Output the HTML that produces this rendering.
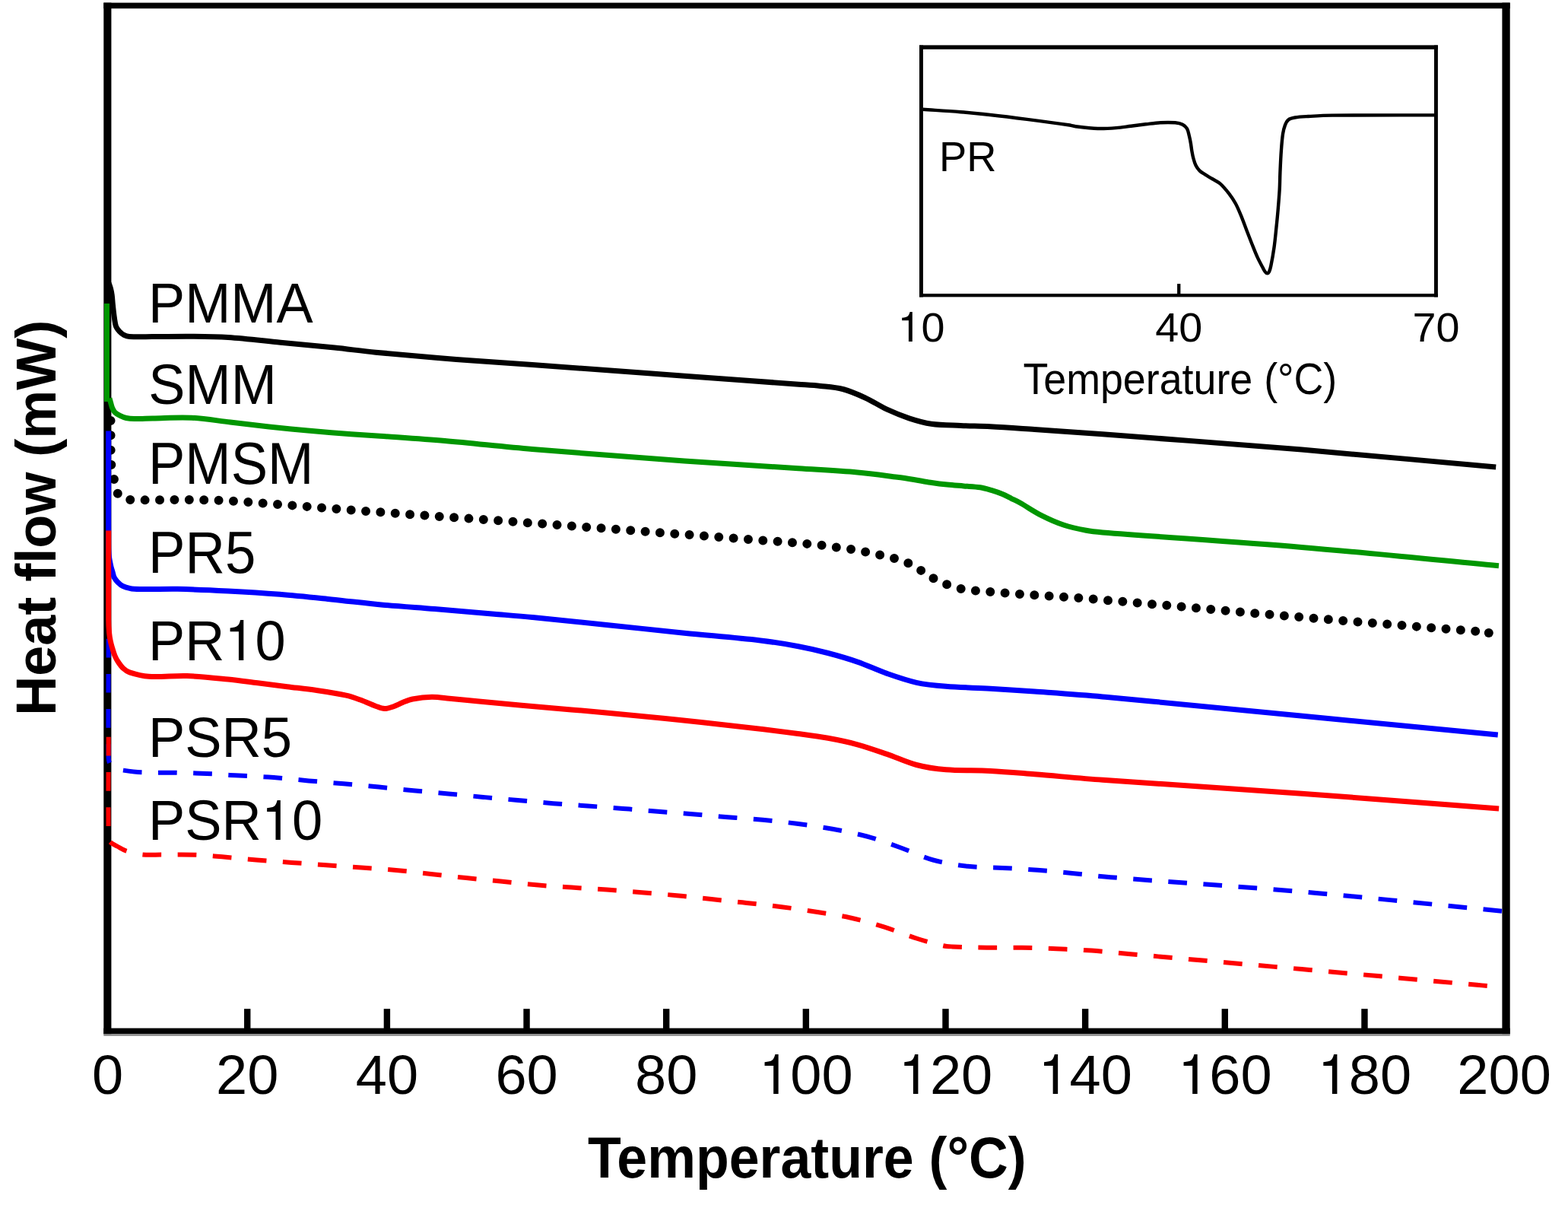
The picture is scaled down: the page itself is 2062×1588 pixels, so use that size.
<!DOCTYPE html>
<html><head><meta charset="utf-8"><title>DSC Heat flow</title>
<style>html,body{margin:0;padding:0;background:#fff;}svg{display:block;}</style>
</head><body>
<svg xmlns="http://www.w3.org/2000/svg" width="2062" height="1588" viewBox="0 0 2062 1588"><rect x="0" y="0" width="2062" height="1588" fill="#fff"/>
<rect x="136" y="1.2" width="1850" height="1.6" fill="#f2f2f2"/>
<g fill="#000">
<rect x="136.3" y="3.6" width="10.1" height="1356"/>
<rect x="1975.4" y="3.6" width="10.3" height="1356"/>
<rect x="136.3" y="3.6" width="1849.4" height="7.6"/>
<rect x="136.3" y="1351.6" width="1849.4" height="7.6"/>
<rect x="321.05" y="1326.2" width="8.4" height="26"/>
<rect x="504.70" y="1326.2" width="8.4" height="26"/>
<rect x="688.35" y="1326.2" width="8.4" height="26"/>
<rect x="872.00" y="1326.2" width="8.4" height="26"/>
<rect x="1055.65" y="1326.2" width="8.4" height="26"/>
<rect x="1239.30" y="1326.2" width="8.4" height="26"/>
<rect x="1422.95" y="1326.2" width="8.4" height="26"/>
<rect x="1606.60" y="1326.2" width="8.4" height="26"/>
<rect x="1790.25" y="1326.2" width="8.4" height="26"/>
</g>
<rect x="136.3" y="1359.2" width="1849.4" height="2.6" fill="#8a8a8a"/>
<g fill="none" stroke-linejoin="round">
<path d="M140.5,399 L140.5,528" stroke="#009600" stroke-width="7"/>
<path d="M143.00,372.00 C143.80,374.33 144.78,376.62 145.40,379.00 C146.18,381.95 146.79,384.97 147.20,388.00 C147.79,392.31 147.93,396.67 148.40,401.00 C149.03,406.87 149.63,412.76 150.50,418.60 C151.03,422.19 151.33,425.98 152.60,429.30 C153.50,431.64 155.26,433.76 157.00,435.60 C158.73,437.43 160.78,439.16 163.00,440.30 C165.25,441.46 167.85,442.34 170.40,442.50 C180.18,443.11 190.13,442.64 200.00,442.60 C216.67,442.54 233.34,442.05 250.00,442.20 C266.67,442.35 283.38,442.38 300.00,443.50 C323.04,445.05 346.00,447.97 369.00,450.20 C392.67,452.50 416.35,454.64 440.00,457.10 C458.02,458.97 475.97,461.46 494.00,463.20 C529.30,466.60 564.64,469.70 600.00,472.50 C633.31,475.14 666.67,477.08 700.00,479.50 C766.67,484.34 833.33,489.40 900.00,494.30 C950.00,497.97 1000.00,501.54 1050.00,505.20 C1059.67,505.91 1069.37,506.36 1079.00,507.40 C1088.77,508.46 1098.75,509.02 1108.20,511.50 C1118.19,514.12 1127.87,518.37 1137.30,522.70 C1147.27,527.27 1156.45,533.57 1166.40,538.20 C1175.85,542.60 1185.59,546.57 1195.50,549.80 C1204.99,552.90 1214.74,555.79 1224.60,557.20 C1237.37,559.02 1250.46,558.90 1263.40,559.50 C1276.33,560.10 1289.28,560.12 1302.20,560.80 C1321.61,561.82 1341.00,563.29 1360.40,564.60 C1390.27,566.62 1420.15,568.55 1450.00,570.80 C1537.31,577.38 1624.65,583.80 1711.90,591.10 C1797.05,598.23 1882.10,606.43 1967.20,614.10" stroke="#000" stroke-width="7"/>
<path d="M144.00,523.50 C144.63,525.83 145.23,528.18 145.90,530.50 C146.46,532.44 146.88,534.46 147.70,536.30 C148.58,538.29 149.49,540.49 151.00,542.00 C152.86,543.86 155.40,545.20 157.80,546.40 C160.40,547.70 163.17,548.87 166.00,549.50 C169.47,550.27 173.12,550.56 176.70,550.60 C184.75,550.69 192.83,550.05 200.90,549.90 C217.90,549.58 234.95,548.35 251.90,549.20 C268.92,550.05 285.84,553.05 302.80,555.00 C319.77,556.95 336.72,559.07 353.70,560.90 C370.65,562.73 387.62,564.45 404.60,566.00 C421.59,567.55 438.59,568.92 455.60,570.20 C470.39,571.32 485.20,572.14 500.00,573.20 C528.30,575.24 556.63,577.05 584.90,579.50 C623.30,582.82 661.59,587.28 700.00,590.50 C766.63,596.08 833.31,601.08 900.00,605.90 C949.98,609.51 1000.00,612.48 1050.00,615.80 C1075.87,617.52 1101.78,618.72 1127.60,621.00 C1145.12,622.55 1162.55,625.07 1180.00,627.30 C1187.28,628.23 1194.55,629.35 1201.80,630.50 C1209.08,631.65 1216.31,633.10 1223.60,634.20 C1230.88,635.30 1238.18,636.31 1245.50,637.10 C1252.75,637.88 1260.03,638.30 1267.30,638.90 C1274.57,639.50 1281.92,639.61 1289.10,640.70 C1294.02,641.44 1298.83,642.96 1303.60,644.40 C1308.53,645.89 1313.44,647.54 1318.20,649.50 C1322.24,651.17 1326.07,653.35 1330.00,655.30 C1333.67,657.12 1337.43,658.79 1341.00,660.80 C1350.80,666.32 1360.09,672.82 1370.10,677.90 C1379.49,682.66 1389.23,686.98 1399.20,690.30 C1408.63,693.44 1418.51,695.45 1428.30,697.30 C1435.45,698.65 1442.74,699.33 1450.00,699.90 C1537.27,706.70 1624.67,712.07 1711.90,719.40 C1798.34,726.67 1884.63,735.60 1971.00,743.70" stroke="#009600" stroke-width="7"/>
<path d="M145.60,536.00 C145.60,549.00 145.46,562.00 145.60,575.00 C145.73,587.27 145.40,599.61 146.40,611.80 C146.94,618.38 148.87,624.81 150.20,631.30 C151.21,636.21 151.50,641.49 153.40,646.00 C154.76,649.22 157.14,652.70 160.00,654.50 C163.01,656.40 167.24,656.99 171.00,657.10 C197.24,657.86 223.67,656.77 250.00,657.10 C268.94,657.34 287.90,657.57 306.80,658.80 C371.17,662.97 435.46,668.59 499.80,673.30 C566.52,678.19 633.28,682.71 700.00,687.60 C768.88,692.65 837.74,697.90 906.60,703.10 C958.27,707.00 1009.95,710.81 1061.60,714.90 C1068.08,715.41 1074.55,716.12 1081.00,716.90 C1087.48,717.69 1093.93,718.73 1100.40,719.60 C1106.56,720.43 1112.76,721.03 1118.90,722.00 C1125.39,723.03 1131.85,724.32 1138.30,725.60 C1144.45,726.82 1150.58,728.14 1156.70,729.50 C1163.18,730.94 1169.73,732.18 1176.10,734.00 C1182.33,735.78 1188.62,737.64 1194.50,740.30 C1200.25,742.91 1205.57,746.51 1211.00,749.80 C1216.57,753.18 1221.79,757.19 1227.50,760.30 C1233.12,763.36 1239.02,766.03 1245.00,768.30 C1250.98,770.57 1257.16,772.53 1263.40,773.90 C1269.76,775.30 1276.31,775.90 1282.80,776.60 C1289.25,777.30 1295.73,777.62 1302.20,778.10 C1315.13,779.06 1328.06,780.00 1341.00,780.90 C1373.00,783.13 1405.03,784.87 1437.00,787.50 C1527.37,794.94 1617.64,803.52 1708.00,811.10 C1791.31,818.09 1874.67,824.50 1958.00,831.20" stroke="#000" stroke-width="12" stroke-linecap="round" stroke-dasharray="0 19.395" stroke-dashoffset="2.5"/>
<circle cx="1957.8" cy="831.9" r="6" fill="#000" stroke="none"/>
<path d="M142.70,566.40 C142.70,615.93 142.46,665.47 142.70,715.00 C142.73,720.67 142.88,726.38 143.50,732.00 C143.98,736.38 145.01,740.70 146.00,745.00 C146.58,747.54 147.46,750.00 148.20,752.50 C148.86,754.73 149.14,757.17 150.20,759.20 C151.40,761.50 153.14,763.66 155.00,765.50 C156.94,767.43 159.09,769.48 161.60,770.50 C166.32,772.41 171.54,774.03 176.70,774.30 C195.48,775.29 214.51,773.90 233.40,774.30 C255.61,774.77 277.81,775.75 300.00,776.90 C322.65,778.08 345.30,779.47 367.90,781.30 C390.56,783.14 413.18,785.58 435.80,787.90 C458.45,790.22 481.04,793.08 503.70,795.20 C526.30,797.31 548.97,798.74 571.60,800.60 C597.74,802.74 623.87,804.98 650.00,807.20 C666.67,808.61 683.35,809.89 700.00,811.50 C733.35,814.72 766.67,818.25 800.00,821.70 C833.34,825.15 866.65,828.82 900.00,832.20 C933.32,835.58 966.74,838.12 1000.00,842.00 C1016.74,843.95 1033.43,846.62 1050.00,849.70 C1063.03,852.12 1075.98,855.13 1088.80,858.50 C1101.85,861.93 1114.86,865.68 1127.60,870.10 C1140.72,874.65 1153.29,880.80 1166.40,885.40 C1179.16,889.87 1192.03,894.43 1205.20,897.30 C1217.90,900.06 1231.01,901.24 1244.00,902.30 C1263.35,903.88 1282.81,904.07 1302.20,905.20 C1321.61,906.33 1341.01,907.68 1360.40,909.10 C1390.28,911.28 1420.17,913.29 1450.00,916.00 C1536.04,923.82 1622.01,932.41 1708.00,940.70 C1795.27,949.11 1882.53,957.63 1969.80,966.10" stroke="#0000ff" stroke-width="7"/>
<path d="M142.70,838.50 C142.70,891.00 142.13,943.56 142.70,996.00 C142.73,998.73 143.25,1001.69 144.50,1004.00 C145.68,1006.19 147.75,1008.41 150.00,1009.50 C153.65,1011.27 158.06,1011.95 162.20,1012.60 C170.53,1013.91 178.97,1015.02 187.40,1015.40 C202.70,1016.09 218.07,1015.48 233.40,1015.80 C248.70,1016.12 264.01,1016.61 279.30,1017.30 C286.88,1017.64 294.43,1018.46 302.00,1018.90 C321.33,1020.03 340.69,1020.61 360.00,1022.00 C375.36,1023.11 390.66,1025.02 406.00,1026.40 C421.33,1027.78 436.67,1028.93 452.00,1030.30 C467.34,1031.67 482.67,1033.11 498.00,1034.60 C513.17,1036.08 528.33,1037.74 543.50,1039.20 C558.83,1040.67 574.17,1041.95 589.50,1043.40 C604.87,1044.85 620.23,1046.46 635.60,1047.90 C650.73,1049.32 665.87,1050.63 681.00,1052.00 C696.53,1053.40 712.06,1054.93 727.60,1056.20 C742.72,1057.43 757.87,1058.39 773.00,1059.50 C788.33,1060.62 803.67,1061.68 819.00,1062.90 C834.34,1064.12 849.66,1065.57 865.00,1066.80 C880.33,1068.03 895.67,1069.07 911.00,1070.30 C926.34,1071.53 941.66,1072.97 957.00,1074.20 C972.33,1075.43 987.69,1076.25 1003.00,1077.70 C1018.03,1079.12 1033.04,1080.82 1048.00,1082.80 C1063.57,1084.86 1079.15,1087.00 1094.60,1089.80 C1109.82,1092.56 1125.09,1095.44 1140.00,1099.50 C1154.69,1103.50 1169.03,1108.88 1183.40,1114.00 C1198.03,1119.21 1212.09,1126.35 1227.00,1130.50 C1241.82,1134.62 1257.28,1137.05 1272.60,1138.80 C1287.62,1140.52 1302.87,1140.08 1318.00,1140.90 C1333.44,1141.74 1348.88,1142.61 1364.30,1143.80 C1379.55,1144.98 1394.78,1146.51 1410.00,1148.00 C1426.84,1149.65 1443.63,1151.84 1460.50,1153.20 C1544.27,1159.94 1628.18,1165.06 1711.90,1172.30 C1799.68,1179.89 1887.30,1189.23 1975.00,1197.70" stroke="#0000ff" stroke-width="6" stroke-dasharray="24.7 21.5" stroke-dashoffset="-1.2"/>
<path d="M142.70,697.40 C142.70,736.60 142.44,775.81 142.70,815.00 C142.74,820.67 143.08,826.36 143.60,832.00 C143.94,835.69 144.57,839.37 145.30,843.00 C145.84,845.70 146.61,848.36 147.40,851.00 C148.51,854.69 149.52,858.45 151.00,862.00 C152.16,864.78 153.63,867.49 155.30,870.00 C157.29,872.99 159.38,876.09 162.00,878.50 C164.42,880.72 167.27,882.89 170.40,883.90 C178.47,886.49 187.07,888.78 195.60,889.30 C212.27,890.31 229.23,887.91 246.00,888.50 C264.03,889.14 282.03,891.20 300.00,893.00 C312.96,894.30 325.87,896.18 338.80,897.80 C351.74,899.42 364.66,901.08 377.60,902.70 C390.53,904.32 403.51,905.61 416.40,907.50 C429.38,909.41 442.42,911.29 455.20,914.10 C461.82,915.55 468.22,917.98 474.60,920.30 C481.16,922.68 487.45,925.81 494.00,928.20 C497.78,929.58 501.70,931.46 505.60,931.60 C509.37,931.73 513.33,930.25 517.00,929.00 C521.46,927.48 525.60,925.03 530.00,923.30 C534.10,921.69 538.19,919.80 542.50,919.00 C550.76,917.47 559.29,916.44 567.70,916.30 C575.46,916.17 583.24,917.48 591.00,918.20 C603.94,919.41 616.86,920.87 629.80,922.10 C653.19,924.33 676.59,926.53 700.00,928.60 C732.32,931.46 764.69,933.90 797.00,936.90 C829.35,939.90 861.68,943.22 894.00,946.60 C926.35,949.98 958.69,953.47 991.00,957.20 C1010.42,959.44 1029.82,961.90 1049.20,964.50 C1062.42,966.27 1075.68,967.91 1088.80,970.30 C1101.82,972.67 1114.84,975.33 1127.60,978.80 C1140.71,982.36 1153.54,986.98 1166.40,991.40 C1179.41,995.88 1191.95,1002.02 1205.20,1005.50 C1217.82,1008.82 1230.97,1010.74 1244.00,1011.80 C1263.30,1013.37 1282.82,1012.40 1302.20,1013.40 C1321.62,1014.40 1341.01,1016.24 1360.40,1017.80 C1390.27,1020.21 1420.11,1023.14 1450.00,1025.30 C1537.27,1031.61 1624.62,1036.90 1711.90,1043.20 C1798.32,1049.44 1884.70,1056.33 1971.10,1062.90" stroke="#ff0000" stroke-width="7"/>
<path d="M142.70,968.80 C142.70,1012.53 142.10,1056.35 142.70,1100.00 C142.73,1102.28 143.12,1105.04 144.60,1106.60 C147.22,1109.37 151.45,1111.01 155.00,1113.00 C158.59,1115.01 162.11,1117.35 166.00,1118.60 C172.91,1120.82 180.17,1122.62 187.40,1123.40 C195.71,1124.29 204.20,1123.55 212.60,1123.60 C227.90,1123.69 243.22,1123.28 258.50,1123.80 C269.68,1124.18 280.84,1125.37 292.00,1126.30 C307.11,1127.57 322.19,1129.14 337.30,1130.40 C352.66,1131.68 368.03,1132.76 383.40,1133.90 C398.60,1135.03 413.80,1136.10 429.00,1137.20 C444.33,1138.30 459.67,1139.37 475.00,1140.50 C490.34,1141.63 505.69,1142.60 521.00,1144.00 C536.25,1145.40 551.47,1147.22 566.70,1148.90 C582.07,1150.59 597.42,1152.47 612.80,1154.10 C627.99,1155.71 643.20,1157.08 658.40,1158.60 C674.93,1160.25 691.45,1162.18 708.00,1163.60 C722.45,1164.84 736.93,1165.65 751.40,1166.60 C766.93,1167.62 782.48,1168.38 798.00,1169.50 C813.34,1170.61 828.67,1172.02 844.00,1173.30 C859.33,1174.58 874.68,1175.73 890.00,1177.20 C905.25,1178.66 920.46,1180.49 935.70,1182.10 C951.06,1183.72 966.44,1185.22 981.80,1186.90 C997.14,1188.58 1012.49,1190.23 1027.80,1192.20 C1042.99,1194.16 1058.17,1196.31 1073.30,1198.70 C1088.37,1201.08 1103.53,1203.18 1118.40,1206.50 C1133.43,1209.85 1148.29,1214.12 1163.00,1218.70 C1177.69,1223.28 1191.93,1229.33 1206.60,1234.00 C1217.60,1237.50 1228.77,1240.63 1240.00,1243.20 C1243.91,1244.10 1247.99,1244.23 1252.00,1244.40 C1267.25,1245.06 1282.53,1245.47 1297.80,1245.70 C1313.20,1245.93 1328.60,1245.53 1344.00,1245.80 C1359.17,1246.06 1374.34,1246.67 1389.50,1247.30 C1404.84,1247.94 1420.19,1248.53 1435.50,1249.60 C1450.82,1250.67 1466.10,1252.34 1481.40,1253.70 C1558.23,1260.51 1635.07,1267.25 1711.90,1274.10 C1788.74,1280.95 1865.57,1287.91 1942.40,1294.80 C1946.93,1295.21 1951.47,1295.60 1956.00,1296.00" stroke="#ff0000" stroke-width="6" stroke-dasharray="24.7 21.5"/>
</g>
<path d="M1213.50,143.80 C1230.07,144.93 1246.65,145.85 1263.20,147.20 C1276.15,148.25 1289.09,149.57 1302.00,151.00 C1318.19,152.80 1334.35,154.81 1350.50,156.90 C1368.68,159.25 1386.86,161.66 1405.00,164.30 C1408.20,164.76 1411.30,165.81 1414.50,166.20 C1424.16,167.38 1433.88,168.65 1443.60,169.00 C1451.68,169.29 1459.82,168.71 1467.90,168.10 C1474.39,167.61 1480.83,166.50 1487.30,165.70 C1493.77,164.90 1500.23,164.05 1506.70,163.30 C1513.16,162.55 1519.61,161.53 1526.10,161.20 C1532.55,160.87 1539.10,160.73 1545.50,161.30 C1548.80,161.60 1552.30,162.34 1555.20,163.80 C1557.47,164.94 1559.73,166.92 1561.00,169.10 C1562.63,171.92 1563.07,175.53 1563.90,178.80 C1564.71,182.00 1565.33,185.25 1565.90,188.50 C1566.46,191.72 1566.74,194.98 1567.30,198.20 C1567.87,201.45 1568.43,204.72 1569.30,207.90 C1570.20,211.19 1571.10,214.57 1572.60,217.60 C1573.83,220.07 1575.54,222.46 1577.50,224.40 C1579.44,226.33 1581.97,227.70 1584.30,229.20 C1587.47,231.23 1590.78,233.05 1594.00,235.00 C1597.51,237.12 1601.45,238.72 1604.50,241.40 C1608.82,245.19 1612.54,249.83 1616.10,254.40 C1619.31,258.53 1622.29,262.92 1624.80,267.50 C1627.59,272.59 1629.77,278.03 1632.00,283.40 C1634.57,289.60 1636.79,295.94 1639.20,302.20 C1641.62,308.47 1644.00,314.76 1646.50,321.00 C1648.83,326.83 1651.08,332.70 1653.70,338.40 C1655.92,343.23 1658.49,347.91 1661.00,352.60 C1661.92,354.31 1662.80,356.12 1664.00,357.60 C1664.63,358.38 1665.70,359.46 1666.50,359.40 C1667.37,359.33 1668.53,358.17 1669.00,357.20 C1670.13,354.87 1670.76,352.12 1671.30,349.50 C1672.93,341.52 1674.36,333.47 1675.50,325.40 C1676.73,316.74 1677.49,308.01 1678.40,299.30 C1679.16,292.07 1679.89,284.84 1680.50,277.60 C1681.32,267.94 1682.15,258.28 1682.70,248.60 C1683.11,241.38 1683.09,234.13 1683.40,226.90 C1683.82,217.23 1684.21,207.55 1684.90,197.90 C1685.41,190.65 1685.92,183.37 1687.00,176.20 C1687.59,172.27 1688.47,168.27 1689.90,164.60 C1690.91,162.01 1692.21,159.01 1694.30,157.40 C1696.57,155.65 1700.00,155.00 1703.00,154.50 C1708.70,153.54 1714.59,153.34 1720.40,153.00 C1730.92,152.38 1741.46,151.70 1752.00,151.60 C1796.99,151.17 1842.00,151.47 1887.00,151.40" fill="none" stroke="#000" stroke-width="4.4" stroke-linejoin="round"/>
<g fill="#000">
<rect x="1209.0" y="59.5" width="4.9" height="331"/>
<rect x="1886.0" y="59.5" width="4.9" height="331"/>
<rect x="1209.0" y="59.4" width="681.9" height="5.4"/>
<rect x="1209.0" y="386.1" width="681.9" height="4.3"/>
<rect x="1548.1" y="373.1" width="4.3" height="14"/>
</g>
<g font-family="Liberation Sans, Arial, sans-serif" font-size="100" fill="#000">
<text transform="translate(195.05,423.90) scale(0.7218,0.7375)" font-weight="normal">PMMA</text>
<text transform="translate(195.35,530.80) scale(0.7220,0.7331)" font-weight="normal">SMM</text>
<text transform="translate(195.03,635.50) scale(0.7242,0.7767)" font-weight="normal">PMSM</text>
<text transform="translate(195.01,752.60) scale(0.7264,0.7709)" font-weight="normal">PR5</text>
<text transform="translate(195.04,867.50) scale(0.7223,0.7433)" font-weight="normal">PR<tspan font-family="TeX Gyre Heros, Liberation Sans, Arial, sans-serif">1</tspan>0</text>
<text transform="translate(195.03,994.80) scale(0.7240,0.7433)" font-weight="normal">PSR5</text>
<text transform="translate(195.03,1104.40) scale(0.7235,0.7375)" font-weight="normal">PSR<tspan font-family="TeX Gyre Heros, Liberation Sans, Arial, sans-serif">1</tspan>0</text>
<text transform="translate(1235.12,225.30) scale(0.5429,0.5513)" font-weight="normal">PR</text>
<text transform="translate(1211.50,448.95) scale(0.557,0.545)" text-anchor="middle"><tspan font-family="TeX Gyre Heros, Liberation Sans, Arial, sans-serif">1</tspan>0</text>
<text transform="translate(1550.20,448.95) scale(0.557,0.545)" text-anchor="middle">40</text>
<text transform="translate(1888.50,448.95) scale(0.557,0.545)" text-anchor="middle">70</text>
<text transform="translate(1345.39,517.80) scale(0.5377,0.5789)" font-weight="normal">Temperature (°C)</text>
<text transform="translate(141.60,1437.9) scale(0.74,0.73)" text-anchor="middle">0</text>
<text transform="translate(325.25,1437.9) scale(0.74,0.73)" text-anchor="middle">20</text>
<text transform="translate(508.90,1437.9) scale(0.74,0.73)" text-anchor="middle">40</text>
<text transform="translate(692.55,1437.9) scale(0.74,0.73)" text-anchor="middle">60</text>
<text transform="translate(876.20,1437.9) scale(0.74,0.73)" text-anchor="middle">80</text>
<text transform="translate(1059.85,1437.9) scale(0.74,0.73)" text-anchor="middle"><tspan font-family="TeX Gyre Heros, Liberation Sans, Arial, sans-serif">1</tspan>00</text>
<text transform="translate(1243.50,1437.9) scale(0.74,0.73)" text-anchor="middle"><tspan font-family="TeX Gyre Heros, Liberation Sans, Arial, sans-serif">1</tspan>20</text>
<text transform="translate(1427.15,1437.9) scale(0.74,0.73)" text-anchor="middle"><tspan font-family="TeX Gyre Heros, Liberation Sans, Arial, sans-serif">1</tspan>40</text>
<text transform="translate(1610.80,1437.9) scale(0.74,0.73)" text-anchor="middle"><tspan font-family="TeX Gyre Heros, Liberation Sans, Arial, sans-serif">1</tspan>60</text>
<text transform="translate(1794.45,1437.9) scale(0.74,0.73)" text-anchor="middle"><tspan font-family="TeX Gyre Heros, Liberation Sans, Arial, sans-serif">1</tspan>80</text>
<text transform="translate(1978.10,1437.9) scale(0.74,0.73)" text-anchor="middle">200</text>
<text transform="translate(772.88,1548.00) scale(0.7168,0.7564)" font-weight="bold">Temperature (°C)</text>
</g>
<g transform="translate(72.8,940.86) rotate(-90)"><text transform="scale(0.7203,0.7389)" font-family="Liberation Sans, Arial, sans-serif" font-size="100" font-weight="bold">Heat flow (mW)</text></g></svg>
</body></html>
